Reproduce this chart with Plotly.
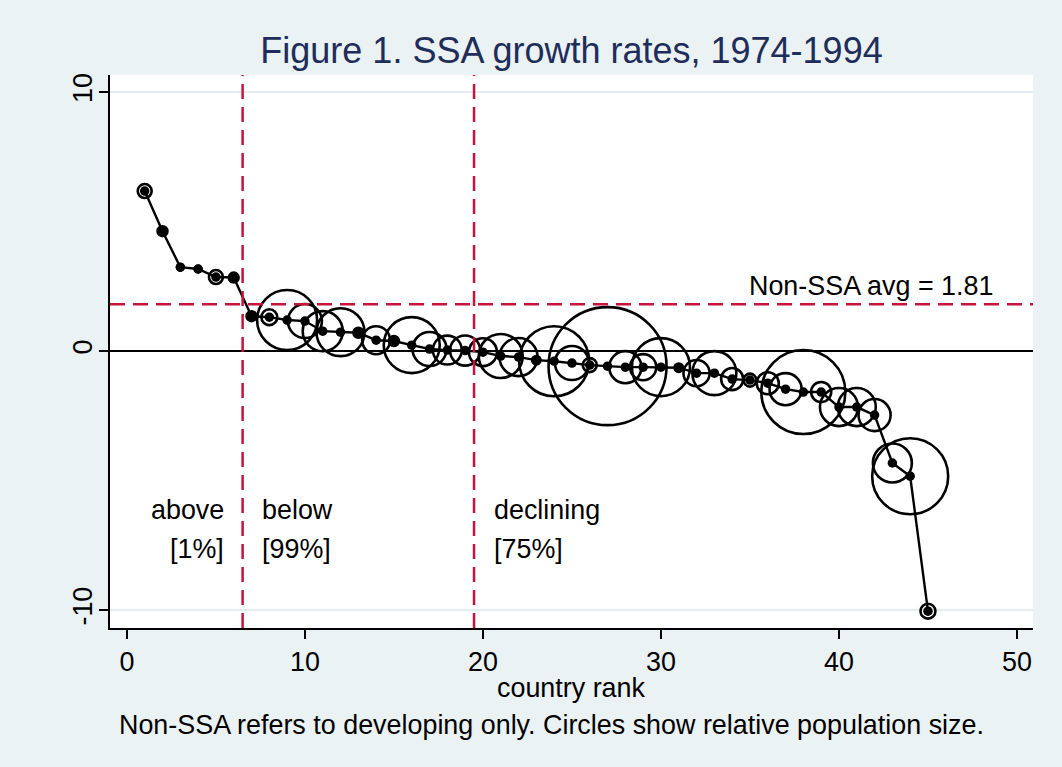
import math
import plotly.graph_objects as go

# ---- data ----
rank = list(range(1, 46))
growth = [6.18, 4.63, 3.24, 3.17, 2.86, 2.84, 1.35, 1.31, 1.20, 1.16,
          0.77, 0.73, 0.71, 0.42, 0.39, 0.23, 0.08, 0.04, 0.02, -0.04,
          -0.19, -0.23, -0.35, -0.39, -0.46, -0.54, -0.58, -0.62, -0.62, -0.62,
          -0.64, -0.85, -0.85, -1.08, -1.12, -1.24, -1.47, -1.58, -1.58, -2.16,
          -2.16, -2.47, -4.32, -4.83, -10.04]
population = [1.4, 0.7, 0.3, 0.3, 1.4, 0.7, 0.7, 1.8, 25.9, 8.3,
              11.5, 16.5, 0.7, 5.6, 0.7, 22.5, 8.3, 6.0, 6.5, 5.6,
              13.9, 10.4, 0.5, 35.2, 8.3, 1.4, 100.0, 7.4, 4.9, 24.2,
              0.5, 4.9, 13.9, 3.5, 1.2, 3.5, 7.4, 50.7, 2.9, 10.4,
              10.4, 7.4, 10.9, 41.5, 1.6]
nonssa_avg = 1.81
group_splits = [6.5, 19.5]
group_labels = ["above", "below", "declining"]
group_shares = ["[1%]", "[99%]", "[75%]"]
x_ticks = [0, 10, 20, 30, 40, 50]
y_ticks = [-10, 0, 10]
y_tick_text = ["-10", "0", "10"]

FONT = "Liberation Sans, Arial, sans-serif"
RED = "#c8143c"
BG = "#eaf2f3"
TXT = 26.9

bubble_px = [2 * 5.9 * math.sqrt(p) for p in population]

fig = go.Figure()
fig.add_trace(go.Scatter(
    x=rank, y=growth, mode="markers",
    marker=dict(size=bubble_px, color="rgba(0,0,0,0)", opacity=1,
                line=dict(color="black", width=2.6)),
    hoverinfo="skip", showlegend=False))
fig.add_trace(go.Scatter(
    x=rank, y=growth, mode="lines+markers",
    line=dict(color="black", width=2.4),
    marker=dict(size=9.5, color="black", opacity=1),
    showlegend=False))

for xs in group_splits:
    fig.add_shape(type="line", xref="x", yref="paper", x0=xs, x1=xs, y0=0, y1=1,
                  line=dict(color=RED, width=2.5, dash="15px,8px"), layer="above")
fig.add_shape(type="line", xref="paper", yref="y", x0=0, x1=1,
              y0=nonssa_avg, y1=nonssa_avg,
              line=dict(color=RED, width=2.5, dash="15px,8px"), layer="above")

fig.add_annotation(x=48.76, y=2.51, xref="x", yref="y", text="Non-SSA avg = %.2f" % nonssa_avg,
                   showarrow=False, xanchor="right", yanchor="middle",
                   font=dict(size=TXT, color="black", family=FONT))

label_x = [5.55, 7.5, 20.5]
anchors = ["right", "left", "left"]
for lx, anc, lab, sh in zip(label_x, anchors, group_labels, group_shares):
    fig.add_annotation(x=lx, y=-6.14, xref="x", yref="y", text=lab, showarrow=False,
                       xanchor=anc, yanchor="middle", font=dict(size=TXT, color="black", family=FONT))
    fig.add_annotation(x=lx, y=-7.64, xref="x", yref="y", text=sh, showarrow=False,
                       xanchor=anc, yanchor="middle", font=dict(size=TXT, color="black", family=FONT))

fig.add_annotation(x=0.5, y=-0.1085, xref="paper", yref="paper", text="country rank",
                   showarrow=False, xanchor="center", yanchor="middle",
                   font=dict(size=TXT, color="black", family=FONT))
fig.add_annotation(x=0.0076, y=-0.1754, xref="paper", yref="paper",
                   text="Non-SSA refers to developing only. Circles show relative population size.",
                   showarrow=False, xanchor="left", yanchor="middle",
                   font=dict(size=TXT, color="black", family=FONT))

fig.update_layout(
    width=1062, height=767, autosize=False,
    margin=dict(l=110, r=29, t=75, b=139),
    paper_bgcolor=BG, plot_bgcolor="white",
    font=dict(family=FONT, size=TXT, color="black"),
    title=dict(text="Figure 1. SSA growth rates, 1974-1994", x=0.5, xref="paper",
               xanchor="center", y=1 - 50 / 767, yanchor="middle", yref="container",
               font=dict(size=36, color="#1e2d5a", family=FONT)),
    showlegend=False,
)
fig.update_xaxes(range=[-0.95, 50.9], tickvals=x_ticks, ticks="outside", ticklen=9,
                 tickwidth=1.5, tickcolor="black", showline=True, linecolor="black",
                 linewidth=1.5, showgrid=False, zeroline=False,
                 tickfont=dict(size=TXT, family=FONT, color="black"))
fig.update_yaxes(range=[-10.69, 10.66], tickvals=y_ticks, ticktext=y_tick_text,
                 ticks="outside", ticklen=9,
                 tickwidth=1.5, tickcolor="black", showline=True, linecolor="black",
                 linewidth=1.5, showgrid=True, gridcolor="#e3ecee", gridwidth=2,
                 zeroline=True, zerolinecolor="black", zerolinewidth=2.4, tickangle=-90,
                 ticklabelstandoff=-4,
                 tickfont=dict(size=TXT, family=FONT, color="black"))

fig.write_html("out.html",
               config={"displayModeBar": False},
               post_script="document.body.style.margin='0';"
                           "document.body.style.background='%s';" % BG)
